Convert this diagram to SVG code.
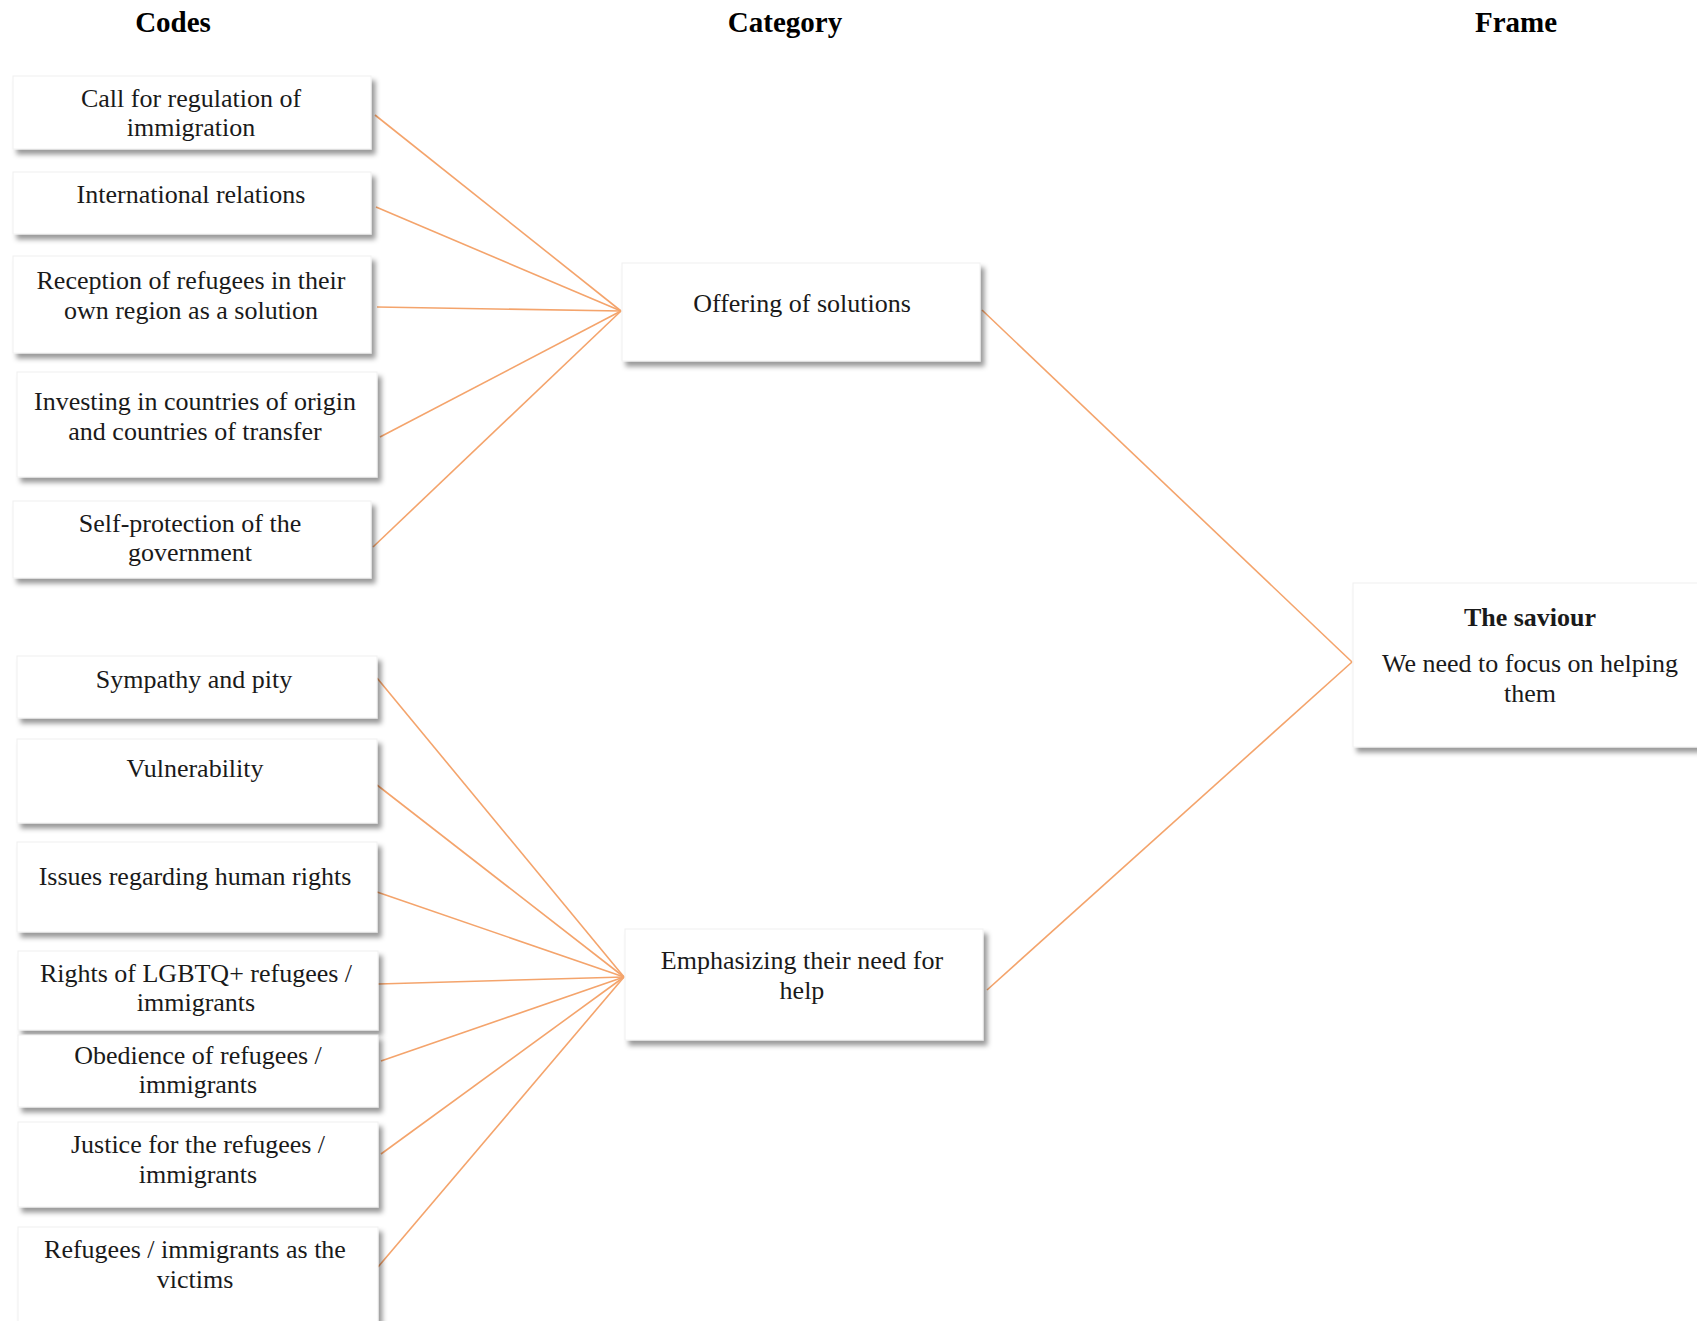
<svg xmlns="http://www.w3.org/2000/svg" width="1697" height="1321" viewBox="0 0 1697 1321">
<defs>
<filter id="sh" x="-5%" y="-10%" width="115%" height="130%">
<feDropShadow dx="4" dy="5" stdDeviation="2.5" flood-color="#000" flood-opacity="0.4"/>
</filter>
</defs>
<style>
.box{fill:#fff;stroke:#f0f0f0;stroke-width:1;filter:url(#sh)}
.t{font-family:"Liberation Serif","Times New Roman",serif;font-size:26px;fill:#1a1a1a;text-anchor:middle}
.b{font-weight:bold}
.h{font-family:"Liberation Serif","Times New Roman",serif;font-size:29px;font-weight:bold;fill:#000;text-anchor:middle}
.c{stroke:#F4A46C;stroke-width:1.6;fill:none}
</style>
<rect width="1697" height="1321" fill="#fff"/>
<g id="headers">
<text class="h" x="173" y="32">Codes</text>
<text class="h" x="785" y="32">Category</text>
<text class="h" x="1516" y="32">Frame</text>
</g>
<g id="connectors">
<line class="c" x1="375" y1="115" x2="621" y2="311"/>
<line class="c" x1="376" y1="207" x2="621" y2="311"/>
<line class="c" x1="377" y1="307" x2="621" y2="311"/>
<line class="c" x1="380" y1="437" x2="621" y2="311"/>
<line class="c" x1="373" y1="547" x2="621" y2="311"/>
<line class="c" x1="377" y1="678" x2="624" y2="977"/>
<line class="c" x1="377" y1="785" x2="624" y2="977"/>
<line class="c" x1="377" y1="892" x2="624" y2="977"/>
<line class="c" x1="378" y1="984" x2="624" y2="977"/>
<line class="c" x1="381" y1="1061" x2="624" y2="977"/>
<line class="c" x1="381" y1="1154" x2="624" y2="977"/>
<line class="c" x1="378" y1="1267" x2="624" y2="977"/>
<line class="c" x1="982" y1="310" x2="1352" y2="662"/>
<line class="c" x1="987" y1="990" x2="1352" y2="662"/>
</g>
<g id="code1"><rect class="box" x="13" y="76" width="358" height="73"/>
<text class="t" x="191" y="107">Call for regulation of</text><text class="t" x="191" y="136">immigration</text></g>
<g id="code2"><rect class="box" x="13" y="172" width="358" height="62"/>
<text class="t" x="191" y="203">International relations</text></g>
<g id="code3"><rect class="box" x="13" y="256" width="358" height="97"/>
<text class="t" x="191" y="289">Reception of refugees in their</text><text class="t" x="191" y="319">own region as a solution</text></g>
<g id="code4"><rect class="box" x="17" y="372" width="360" height="105"/>
<text class="t" x="195" y="410">Investing in countries of origin</text><text class="t" x="195" y="440">and countries of transfer</text></g>
<g id="code5"><rect class="box" x="13" y="501" width="358" height="77"/>
<text class="t" x="190" y="532">Self-protection of the</text><text class="t" x="190" y="561">government</text></g>
<g id="code6"><rect class="box" x="17" y="656" width="360" height="62"/>
<text class="t" x="194" y="688">Sympathy and pity</text></g>
<g id="code7"><rect class="box" x="17" y="739" width="360" height="84"/>
<text class="t" x="195" y="777">Vulnerability</text></g>
<g id="code8"><rect class="box" x="17" y="842" width="360" height="90"/>
<text class="t" x="195" y="885">Issues regarding human rights</text></g>
<g id="code9"><rect class="box" x="18" y="951" width="360" height="79"/>
<text class="t" x="196" y="982">Rights of LGBTQ+ refugees /</text><text class="t" x="196" y="1011">immigrants</text></g>
<g id="code10"><rect class="box" x="18" y="1035" width="360" height="72"/>
<text class="t" x="198" y="1064">Obedience of refugees /</text><text class="t" x="198" y="1093">immigrants</text></g>
<g id="code11"><rect class="box" x="18" y="1122" width="360" height="85"/>
<text class="t" x="198" y="1153">Justice for the refugees /</text><text class="t" x="198" y="1183">immigrants</text></g>
<g id="code12"><rect class="box" x="18" y="1227" width="360" height="120"/>
<text class="t" x="195" y="1258">Refugees / immigrants as the</text><text class="t" x="195" y="1288">victims</text></g>
<g id="category1"><rect class="box" x="622" y="263" width="358" height="98"/>
<text class="t" x="802" y="312">Offering of solutions</text></g>
<g id="category2"><rect class="box" x="625" y="929" width="358" height="111"/>
<text class="t" x="802" y="969">Emphasizing their need for</text><text class="t" x="802" y="999">help</text></g>
<g id="frame"><rect class="box" x="1353" y="583" width="370" height="164"/>
<text class="t b" x="1530" y="626">The saviour</text>
<text class="t" x="1530" y="672">We need to focus on helping</text><text class="t" x="1530" y="702">them</text></g>
</svg>
